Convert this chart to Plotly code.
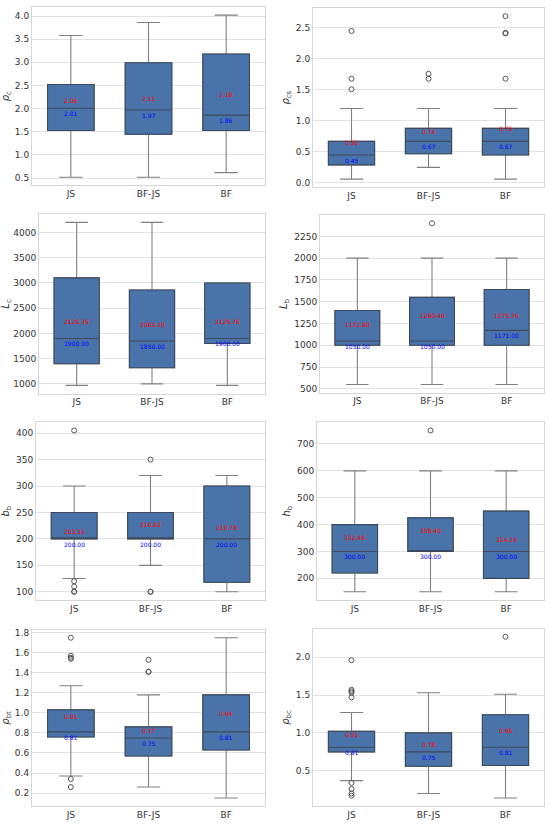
import plotly.graph_objects as go
from plotly.subplots import make_subplots

categories = ["JS", "BF-JS", "BF"]

# rho_c
rho_c_low = [0.52, 0.52, 0.62]
rho_c_q1 = [1.53, 1.45, 1.53]
rho_c_median = [2.01, 1.97, 1.86]
rho_c_q3 = [2.52, 2.99, 3.18]
rho_c_high = [3.58, 3.86, 4.02]
rho_c_mean = [2.06, 2.11, 2.18]
rho_c_outliers = [[], [], []]

# rho_cs
rho_cs_low = [0.06, 0.25, 0.06]
rho_cs_q1 = [0.29, 0.47, 0.45]
rho_cs_median = [0.45, 0.67, 0.67]
rho_cs_q3 = [0.67, 0.88, 0.88]
rho_cs_high = [1.20, 1.20, 1.20]
rho_cs_mean = [0.56, 0.74, 0.79]
rho_cs_outliers = [[2.45, 1.68, 1.51], [1.76, 1.68], [2.69, 2.42, 2.41, 1.68]]

# L_c
l_c_low = [970, 1000, 970]
l_c_q1 = [1400, 1320, 1800]
l_c_median = [1900, 1850, 1900]
l_c_q3 = [3100, 2860, 3000]
l_c_high = [4200, 4200, 3000]
l_c_mean = [2126.35, 2063.20, 2125.76]
l_c_outliers = [[], [], []]

# L_b
l_b_low = [550, 550, 550]
l_b_q1 = [1000, 1000, 1000]
l_b_median = [1050, 1050, 1171]
l_b_q3 = [1400, 1550, 1640]
l_b_high = [2000, 2000, 2000]
l_b_mean = [1172.80, 1280.40, 1275.76]
l_b_outliers = [[], [2400], []]

# b_b
b_b_low = [125, 150, 100]
b_b_q1 = [200, 200, 118]
b_b_median = [200, 200, 200]
b_b_q3 = [250, 250, 300]
b_b_high = [300, 320, 320]
b_b_mean = [203.52, 216.82, 210.78]
b_b_outliers = [[405, 120, 110, 100, 100], [350, 100, 100], []]

# h_b
h_b_low = [150, 150, 150]
h_b_q1 = [220, 300, 200]
h_b_median = [300, 300, 300]
h_b_q3 = [400, 425, 450]
h_b_high = [600, 600, 600]
h_b_mean = [332.46, 358.40, 324.25]
h_b_outliers = [[], [750], []]

# rho_bt
rho_bt_low = [0.37, 0.26, 0.15]
rho_bt_q1 = [0.76, 0.57, 0.63]
rho_bt_median = [0.81, 0.75, 0.81]
rho_bt_q3 = [1.03, 0.86, 1.18]
rho_bt_high = [1.27, 1.18, 1.75]
rho_bt_mean = [0.91, 0.77, 0.94]
rho_bt_outliers = [[1.75, 1.57, 1.55, 1.54, 0.34, 0.26], [1.53, 1.41, 1.41], []]

# rho_bc
rho_bc_low = [0.37, 0.20, 0.14]
rho_bc_q1 = [0.75, 0.56, 0.57]
rho_bc_median = [0.81, 0.75, 0.81]
rho_bc_q3 = [1.02, 1.00, 1.24]
rho_bc_high = [1.27, 1.53, 1.51]
rho_bc_mean = [0.91, 0.78, 0.96]
rho_bc_outliers = [[1.96, 1.57, 1.55, 1.53, 1.47, 0.34, 0.26, 0.20, 0.17], [], [2.27]]

panels = [
    ("<i>ρ</i><sub>c</sub>", rho_c_low, rho_c_q1, rho_c_median, rho_c_q3, rho_c_high, rho_c_mean, rho_c_outliers),
    ("<i>ρ</i><sub>cs</sub>", rho_cs_low, rho_cs_q1, rho_cs_median, rho_cs_q3, rho_cs_high, rho_cs_mean, rho_cs_outliers),
    ("<i>L</i><sub>c</sub>", l_c_low, l_c_q1, l_c_median, l_c_q3, l_c_high, l_c_mean, l_c_outliers),
    ("<i>L</i><sub>b</sub>", l_b_low, l_b_q1, l_b_median, l_b_q3, l_b_high, l_b_mean, l_b_outliers),
    ("<i>b</i><sub>b</sub>", b_b_low, b_b_q1, b_b_median, b_b_q3, b_b_high, b_b_mean, b_b_outliers),
    ("<i>h</i><sub>b</sub>", h_b_low, h_b_q1, h_b_median, h_b_q3, h_b_high, h_b_mean, h_b_outliers),
    ("<i>ρ</i><sub>bt</sub>", rho_bt_low, rho_bt_q1, rho_bt_median, rho_bt_q3, rho_bt_high, rho_bt_mean, rho_bt_outliers),
    ("<i>ρ</i><sub>bc</sub>", rho_bc_low, rho_bc_q1, rho_bc_median, rho_bc_q3, rho_bc_high, rho_bc_mean, rho_bc_outliers),
]

# layout of the panels in pixels: (left, right, top, bottom), plus tick step / format
W, H = 550, 827
boxes_px = [
    (32, 265, 5, 184), (313, 544, 6, 186),
    (39, 265, 213, 393), (320, 544, 214, 392),
    (36, 265, 422, 600), (317, 544, 422, 600),
    (32, 265, 630, 807), (313, 544, 629, 807),
]
ticks = [(0.5, ".1f"), (0.5, ".1f"), (500, "d"), (250, "d"), (50, "d"), (100, "d"), (0.2, ".1f"), (0.5, ".1f")]

FILL = "#4a74a9"
EDGE = "#3b4a5e"
WHISKER = "#808080"

fig = make_subplots(rows=4, cols=2)

for i, (title, low, q1, med, q3, high, mean, outliers) in enumerate(panels):
    row, col = i // 2 + 1, i % 2 + 1

    # whiskers (grey)
    fig.add_trace(
        go.Box(
            x=categories, q1=q1, median=med, q3=q3, lowerfence=low, upperfence=high,
            fillcolor=FILL, line={"color": WHISKER, "width": 1.1}, width=0.6, whiskerwidth=0.5,
            showlegend=False, hoverinfo="skip",
        ),
        row=row, col=col,
    )
    # box edges + median (dark)
    fig.add_trace(
        go.Box(
            x=categories, q1=q1, median=med, q3=q3, lowerfence=q1, upperfence=q3,
            fillcolor=FILL, line={"color": EDGE, "width": 1.1}, width=0.6, whiskerwidth=0,
            showlegend=False, hoverinfo="skip",
        ),
        row=row, col=col,
    )

    ox, oy = [], []
    for cat, pts in zip(categories, outliers):
        ox += [cat] * len(pts)
        oy += pts
    fig.add_trace(
        go.Scatter(
            x=ox, y=oy, mode="markers", showlegend=False, hoverinfo="skip",
            marker={"symbol": "circle-open", "size": 5, "color": "#555555", "line": {"width": 1}},
        ),
        row=row, col=col,
    )

    for cat, m, md in zip(categories, mean, med):
        fig.add_annotation(x=cat, y=m, text=f"{m:.2f}", showarrow=False, yanchor="bottom",
                           font={"size": 6, "color": "red"}, row=row, col=col)
        fig.add_annotation(x=cat, y=md, text=f"{md:.2f}", showarrow=False, yanchor="top",
                           font={"size": 6, "color": "blue"}, row=row, col=col)

    values = low + high + [v for pts in outliers for v in pts]
    lo, hi = min(values), max(values)
    pad = 0.05 * (hi - lo)

    left, right, top, bottom = boxes_px[i]
    dtick, fmt = ticks[i]
    fig.update_xaxes(
        domain=[left / W, right / W], range=[-0.5, 2.5], type="category",
        showgrid=False, showline=True, mirror=True, linecolor="#d6d6d6", linewidth=1,
        ticks="", tickfont={"size": 9, "color": "#333333"},
        row=row, col=col,
    )
    fig.update_yaxes(
        domain=[1 - bottom / H, 1 - top / H], range=[lo - pad, hi + pad],
        dtick=dtick, tickformat=fmt, showgrid=True, gridcolor="#e3e3e3", gridwidth=1,
        zeroline=False, showline=True, mirror=True, linecolor="#d6d6d6", linewidth=1,
        ticks="", tickfont={"size": 9, "color": "#333333"},
        title={"text": title, "font": {"size": 10, "color": "#333333"}, "standoff": 4},
        row=row, col=col,
    )

fig.update_layout(
    width=W, height=H,
    margin={"l": 0, "r": 0, "t": 0, "b": 0},
    boxmode="overlay",
    paper_bgcolor="white", plot_bgcolor="white",
    font={"family": "DejaVu Sans", "color": "#333333"},
)

# the page body has a default 8px margin; drop it so the figure fills the window
fig.write_html(
    "out.html",
    config={"displayModeBar": False},
    post_script="document.body.style.margin = '0';",
)
